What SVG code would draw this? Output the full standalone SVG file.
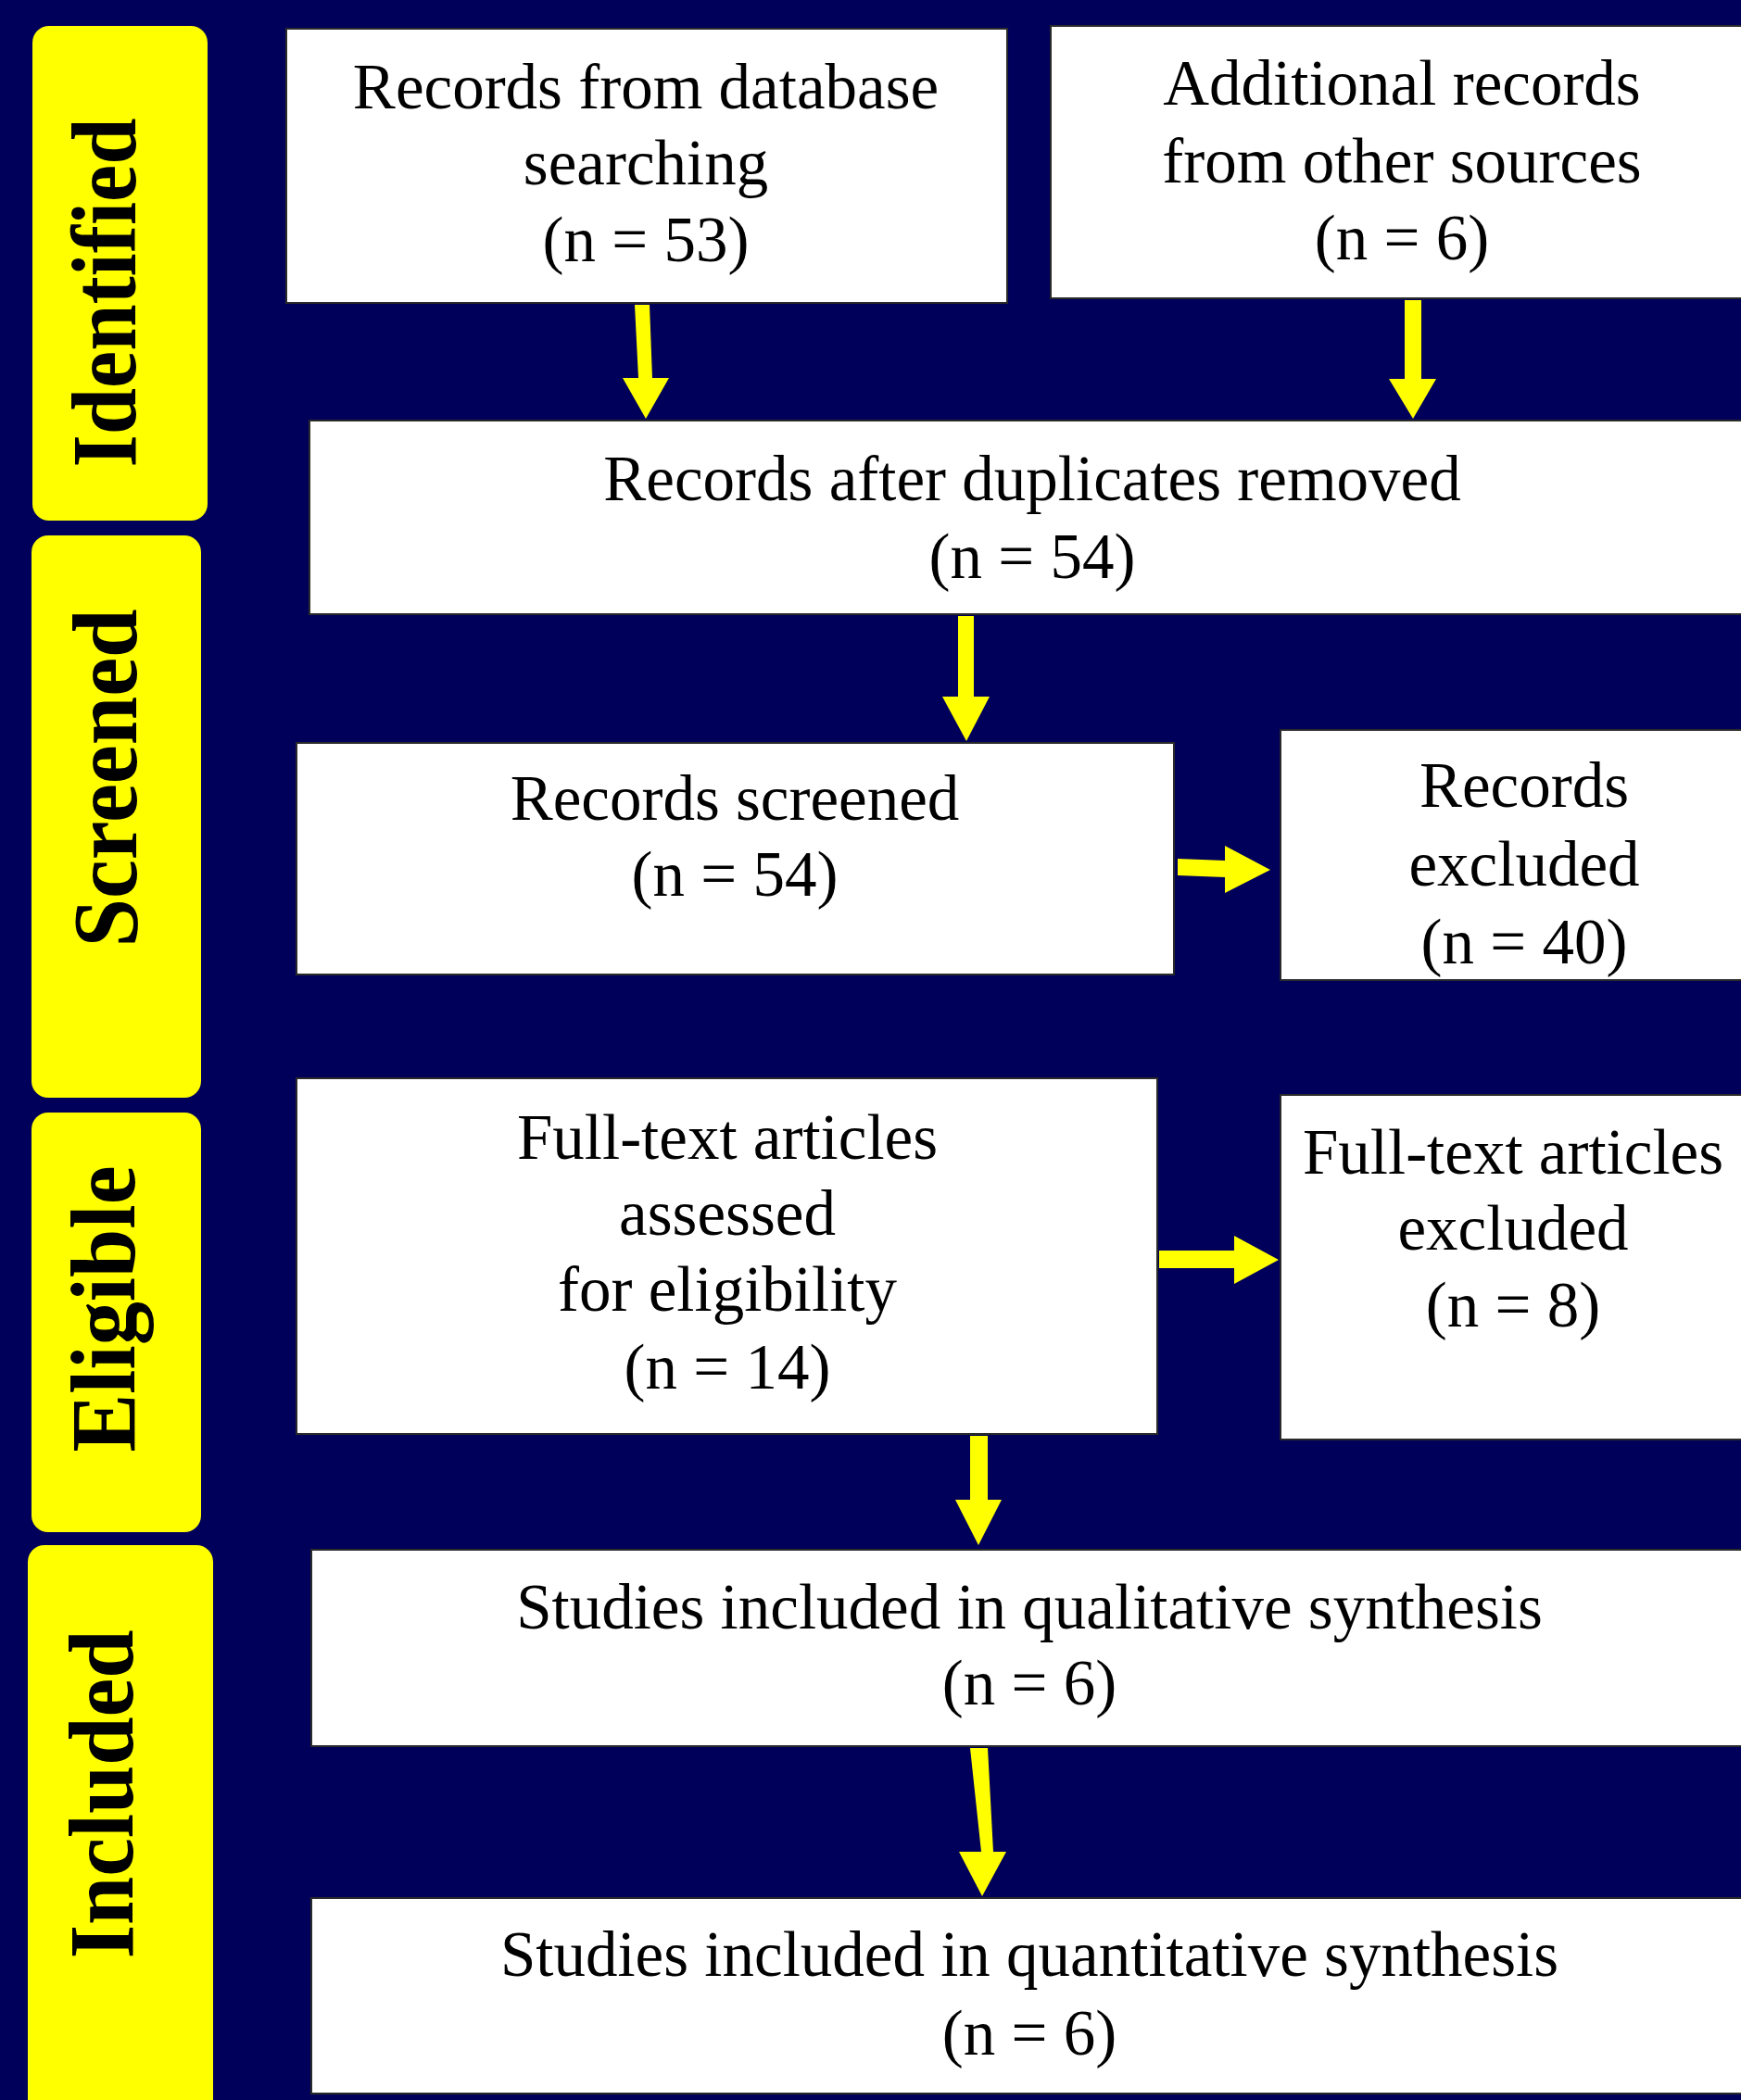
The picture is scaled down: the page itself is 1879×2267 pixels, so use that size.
<svg xmlns="http://www.w3.org/2000/svg" width="1879" height="2267" viewBox="0 0 1879 2267">
<style>
.bg{fill:#00005a}
.lab{fill:#ffff00}
.box{fill:#ffffff;stroke:#2a2a2a;stroke-width:2}
.t{font-family:"Liberation Serif","Times New Roman",serif;font-size:69px;fill:#000;text-anchor:middle}
.lt{font-family:"Liberation Serif","Times New Roman",serif;font-size:100px;font-weight:bold;fill:#000;text-anchor:middle}
.arr{fill:#ffff00}
</style>
<rect class="bg" x="0" y="0" width="1879" height="2267"/>

<g id="label-identified">
<rect class="lab" x="35" y="28" width="189" height="534" rx="18"/>
<text class="lt" transform="translate(146,316) rotate(-90)" textLength="377" lengthAdjust="spacingAndGlyphs">Identified</text>
</g>
<g id="label-screened">
<rect class="lab" x="34" y="578" width="183" height="607" rx="18"/>
<text class="lt" transform="translate(147,840) rotate(-90)" textLength="365" lengthAdjust="spacingAndGlyphs">Screened</text>
</g>
<g id="label-eligible">
<rect class="lab" x="34" y="1201" width="183" height="453" rx="18"/>
<text class="lt" transform="translate(145,1413) rotate(-90)" textLength="309" lengthAdjust="spacingAndGlyphs">Eligible</text>
</g>
<g id="label-included">
<rect class="lab" x="30" y="1668" width="200" height="640" rx="18"/>
<text class="lt" transform="translate(143,1937) rotate(-90)" textLength="355" lengthAdjust="spacingAndGlyphs">Included</text>
</g>

<g id="node-database">
<rect class="box" x="309" y="31" width="778" height="296"/>
<text class="t" x="697" y="117">Records from database</text>
<text class="t" x="697" y="199">searching</text>
<text class="t" x="697" y="282">(n = 53)</text>
</g>
<g id="node-other">
<rect class="box" x="1134" y="28" width="800" height="294"/>
<text class="t" x="1513" y="113">Additional records</text>
<text class="t" x="1513" y="197">from other sources</text>
<text class="t" x="1513" y="280">(n = 6)</text>
</g>
<g id="node-duplicates">
<rect class="box" x="334" y="454" width="1600" height="209"/>
<text class="t" x="1114" y="540">Records after duplicates removed</text>
<text class="t" x="1114" y="624">(n = 54)</text>
</g>
<g id="node-screened">
<rect class="box" x="320" y="802" width="947" height="250"/>
<text class="t" x="793" y="885">Records screened</text>
<text class="t" x="793" y="967">(n = 54)</text>
</g>
<g id="node-excluded">
<rect class="box" x="1382" y="788" width="600" height="270"/>
<text class="t" x="1645" y="871">Records</text>
<text class="t" x="1645" y="956">excluded</text>
<text class="t" x="1645" y="1040">(n = 40)</text>
</g>
<g id="node-fulltext">
<rect class="box" x="320" y="1164" width="929" height="384"/>
<text class="t" x="785" y="1251">Full-text articles</text>
<text class="t" x="785" y="1333">assessed</text>
<text class="t" x="785" y="1415">for eligibility</text>
<text class="t" x="785" y="1499">(n = 14)</text>
</g>
<g id="node-ft-excluded">
<rect class="box" x="1382" y="1182" width="600" height="372"/>
<text class="t" x="1633" y="1267">Full-text articles</text>
<text class="t" x="1633" y="1349">excluded</text>
<text class="t" x="1633" y="1432">(n = 8)</text>
</g>
<g id="node-qualitative">
<rect class="box" x="336" y="1673" width="1600" height="212"/>
<text class="t" x="1111" y="1758">Studies included in qualitative synthesis</text>
<text class="t" x="1111" y="1840">(n = 6)</text>
</g>
<g id="node-quantitative">
<rect class="box" x="336" y="2049" width="1600" height="211"/>
<text class="t" x="1111" y="2133">Studies included in quantitative synthesis</text>
<text class="t" x="1111" y="2218">(n = 6)</text>
</g>

<g id="connectors">
<polygon class="arr" points="685,329 701,329 704,408 722,408 697,452 672,408 689,408"/>
<polygon class="arr" points="1516,324 1534,324 1534,409 1550,409 1525,452 1499,409 1516,409"/>
<polygon class="arr" points="1034,665 1051,665 1051,752 1068,752 1043,800 1017,752 1034,752"/>
<polygon class="arr" points="1271,927 1322,929 1322,913 1371,939 1322,964 1322,947 1271,945"/>
<polygon class="arr" points="1251,1350 1332,1350 1332,1334 1380,1360 1332,1386 1332,1369 1251,1369"/>
<polygon class="arr" points="1047,1550 1066,1550 1066,1619 1081,1619 1056,1668 1031,1619 1047,1619"/>
<polygon class="arr" points="1047,1887 1066,1887 1072,1999 1086,1999 1060,2047 1035,1999 1059,1999"/>
</g>
</svg>
